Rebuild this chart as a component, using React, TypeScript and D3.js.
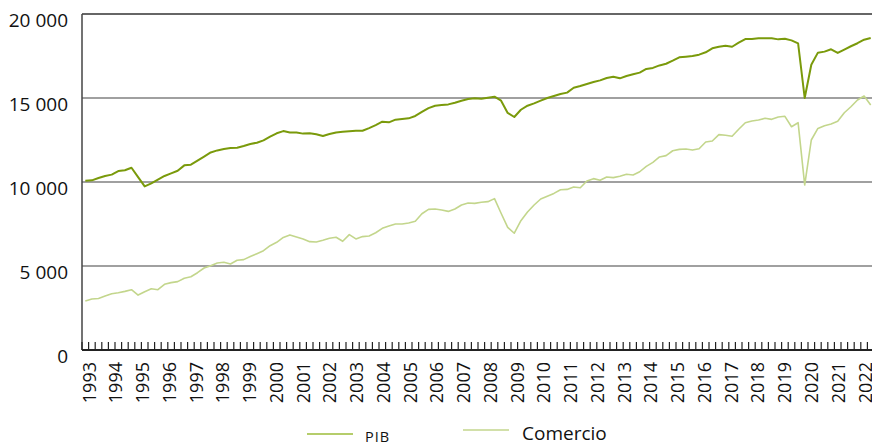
import React from "react";
import * as d3 from "d3";

// quarterly series, 1993T1 .. 2022T4
const years = d3.range(1993, 2023);
const quarters = ["T1", "T2", "T3", "T4"];
const categories = years.flatMap(y => quarters.map(q => `${y}${q}`));

const pib = [
  10080, 10100, 10240, 10360, 10440, 10650, 10700, 10850, 10290, 9740,
  9920, 10140, 10360, 10510, 10670, 10990, 11030, 11270, 11510, 11760,
  11880, 11960, 12020, 12040, 12140, 12260, 12340, 12480, 12700, 12900,
  13030, 12950, 12940, 12880, 12900, 12840, 12740, 12860, 12950, 12990,
  13020, 13050, 13050, 13210, 13390, 13590, 13550, 13710, 13750, 13790,
  13930, 14170, 14400, 14540, 14580, 14620, 14720, 14840, 14940, 14980,
  14960, 15020, 15080, 14840, 14110, 13870, 14300, 14540, 14680, 14840,
  15000, 15120, 15240, 15320, 15610, 15710, 15830, 15950, 16050, 16190,
  16270, 16170, 16310, 16410, 16510, 16730, 16790, 16940, 17040, 17220,
  17420, 17460, 17500, 17580, 17720, 17960, 18050, 18110, 18050, 18290,
  18510, 18510, 18550, 18550, 18550, 18490, 18530, 18430, 18250, 15000,
  16980, 17700, 17760, 17900, 17680, 17880, 18080, 18260, 18470, 18570,
];

const comercio = [
  2920, 3040, 3070, 3210, 3350, 3410, 3490, 3590, 3270, 3470,
  3650, 3590, 3910, 4010, 4070, 4270, 4360, 4600, 4880, 5020,
  5180, 5220, 5120, 5340, 5380, 5560, 5730, 5910, 6210, 6410,
  6700, 6850, 6730, 6610, 6450, 6430, 6530, 6650, 6710, 6470,
  6870, 6610, 6750, 6790, 6980, 7240, 7380, 7500, 7500, 7560,
  7660, 8110, 8370, 8390, 8330, 8250, 8390, 8630, 8750, 8730,
  8790, 8830, 9010, 8140, 7300, 6950, 7700, 8210, 8630, 8990,
  9150, 9320, 9540, 9560, 9700, 9660, 10060, 10200, 10100, 10300,
  10260, 10340, 10460, 10420, 10610, 10930, 11170, 11490, 11570, 11860,
  11940, 11960, 11900, 11980, 12380, 12440, 12820, 12780, 12720, 13140,
  13530, 13630, 13690, 13790, 13730, 13870, 13910, 13290, 13530, 9820,
  12500, 13190, 13350, 13450, 13610, 14120, 14480, 14880, 15120, 14580,
];

const yTicks = [0, 5000, 10000, 15000, 20000];
const seriesNames = ["PIB", "Comercio"];
const seriesColors = ["#7a9a0b", "#c3d68c"];

const W = 872, H = 446;
const margin = { top: 14, left: 82, bottom: 96 };
const step = 6.6;

export default function App() {
  const x = d3.scaleBand<string>()
    .domain(categories)
    .range([margin.left, margin.left + categories.length * step])
    .padding(0);
  const y = d3.scaleLinear().domain([0, 20000]).range([H - margin.bottom, margin.top]);
  const cx = (i: number) => x(categories[i])! + x.bandwidth() / 2;

  // year labels sit a little off the first quarter, spread across the whole axis
  const xLab = d3.scalePoint<number>()
    .domain(years)
    .range([cx(0) + 4, cx(categories.length - 1) - 5.5]);

  const line = d3.line<number>()
    .x((d, i) => cx(i))
    .y(d => y(d));

  const fmt = (v: number) => d3.format(",")(v).replace(",", " ");
  const font = "'Open Sans', sans-serif";
  const x0 = margin.left, x1 = W;
  const yBase = y(0);

  return (
    <svg width={W} height={H} style={{ position: "absolute", left: 0, top: 0 }} fontFamily={font}>
      {yTicks.filter(t => t > 0 && t < 20000).map(t => (
        <line key={t} x1={x0} x2={x1} y1={y(t)} y2={y(t)} stroke="#808080" strokeWidth={1.3} />
      ))}
      <line x1={x0} x2={x1} y1={y(20000)} y2={y(20000)} stroke="#333" strokeWidth={1.6} />

      <path d={line(comercio)!} fill="none" stroke={seriesColors[1]} strokeWidth={1.6} strokeLinejoin="round" />
      <path d={line(pib)!} fill="none" stroke={seriesColors[0]} strokeWidth={2} strokeLinejoin="round" />

      <line x1={x0} x2={x0} y1={y(20000)} y2={yBase} stroke="#444" strokeWidth={1.5} />
      {d3.range(categories.length + 1).map(i => {
        const tx = margin.left + i * step;
        return <line key={i} x1={tx} x2={tx} y1={yBase} y2={yBase - 8} stroke="#222" strokeWidth={1.2} />;
      })}
      <line x1={x0} x2={x1} y1={yBase} y2={yBase} stroke="#222" strokeWidth={2} />

      {yTicks.map(t => (
        <text key={t} x={68} y={y(t) + 13} textAnchor="end" fontSize={19} fill="#111">{fmt(t)}</text>
      ))}

      {years.map(yr => (
        <text key={yr} transform={`translate(${xLab(yr)},${yBase + 12}) rotate(-90)`}
          textAnchor="end" dy="0.35em" fontSize={18} fill="#111">{yr}</text>
      ))}

      <g>
        <line x1={307} x2={353} y1={434} y2={434} stroke="#9dbd3a" strokeWidth={1.5} />
        <text x={365} y={442} fontSize={14.5} letterSpacing={1} fill="#111">{seriesNames[0]}</text>
        <line x1={463} x2={509} y1={430} y2={430} stroke={seriesColors[1]} strokeWidth={1.5} />
        <text x={522} y={440} fontSize={19} fill="#111">{seriesNames[1]}</text>
      </g>
    </svg>
  );
}
